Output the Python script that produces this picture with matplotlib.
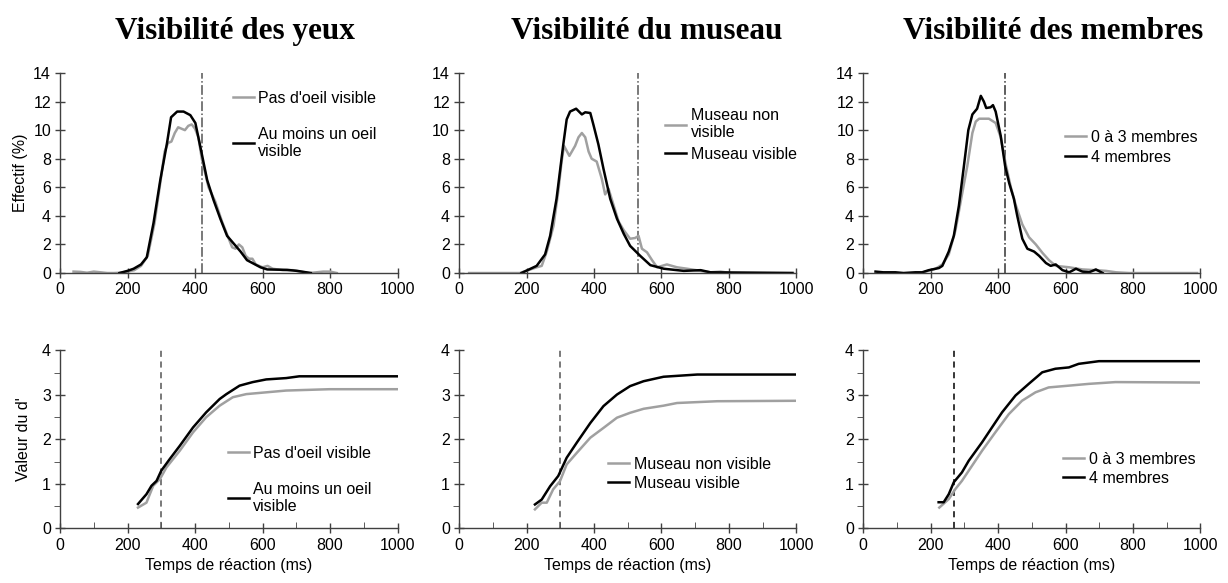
import numpy as np
import matplotlib.pyplot as plt
from matplotlib.ticker import MultipleLocator

# ---- top row : distribution des temps de reaction (%) ----
# yeux
t_yeux_gris = [40, 60, 80, 100, 120, 140, 160, 180, 200, 220, 240, 260, 280, 300, 310, 320, 330, 340, 350, 360, 370,
               380, 390, 400, 410, 420, 430, 440, 460, 480, 500, 510, 520, 530, 540, 550, 560, 570, 580, 600, 615,
               630, 660, 690, 710, 740, 780, 800, 820]
eff_yeux_gris = [0.1, 0.08, 0.02, 0.1, 0.05, 0.0, 0.0, 0.02, 0.1, 0.2, 0.5, 1.2, 3.5, 6.8, 8.5, 9.1, 9.2, 9.8, 10.2,
                 10.1, 10.0, 10.3, 10.4, 10.1, 9.5, 8.0, 7.0, 6.0, 5.0, 3.6, 2.4, 1.8, 1.7, 2.0, 1.8, 1.2, 1.0, 1.0,
                 0.6, 0.4, 0.5, 0.3, 0.2, 0.2, 0.1, 0.0, 0.1, 0.1, 0.0]
t_yeux_noir = [176, 200, 218, 240, 257, 277, 297, 317, 329, 347, 366, 386, 401, 416, 436, 455, 475, 495, 515, 535,
               554, 594, 614, 673, 703, 743]
eff_yeux_noir = [0.0, 0.15, 0.3, 0.6, 1.1, 3.5, 6.5, 9.1, 10.9, 11.3, 11.3, 11.05, 10.5, 8.8, 6.5, 5.1, 3.8, 2.6,
                 2.05, 1.5, 0.9, 0.4, 0.25, 0.22, 0.15, 0.0]

# museau
t_mus_gris = [30, 180, 230, 245, 260, 280, 294, 304, 311, 327, 344, 354, 364, 374, 384, 393, 408, 423, 433, 443, 458,
              473, 488, 507, 522, 532, 542, 557, 572, 587, 616, 646, 676, 716, 745, 775, 805, 990]
eff_mus_gris = [0.0, 0.0, 0.4, 0.5, 1.5, 3.3, 5.7, 7.8, 8.9, 8.2, 8.9, 9.5, 9.8, 9.5, 8.5, 8.0, 7.8, 6.6, 5.5, 5.9,
                4.75, 3.6, 3.0, 2.4, 2.45, 2.6, 1.7, 1.45, 0.9, 0.4, 0.6, 0.4, 0.3, 0.15, 0.05, 0.1, 0.0, 0.0]
t_mus_noir = [185, 230, 255, 270, 289, 309, 319, 329, 347, 364, 374, 389, 398, 413, 428, 448, 468, 488, 507, 537,
              567, 607, 666, 716, 745, 988]
eff_mus_noir = [0.0, 0.5, 1.3, 2.6, 5.2, 9.0, 10.75, 11.3, 11.5, 11.1, 11.25, 11.2, 10.4, 9.0, 7.3, 5.2, 3.8, 2.75,
                1.9, 1.2, 0.55, 0.3, 0.15, 0.2, 0.05, 0.0]

# membres
t_mem_gris = [185, 215, 235, 254, 274, 294, 309, 324, 334, 344, 373, 393, 408, 423, 438, 452, 472, 492, 512, 532,
              551, 571, 611, 650, 690, 720, 750, 789, 990]
eff_mem_gris = [0.1, 0.3, 0.6, 1.3, 3.0, 5.6, 7.5, 9.8, 10.6, 10.8, 10.8, 10.5, 9.5, 7.6, 6.0, 4.8, 3.4, 2.5, 2.0,
                1.4, 0.9, 0.5, 0.4, 0.25, 0.2, 0.15, 0.05, 0.0, 0.0]
t_mem_noir = [37, 60, 96, 120, 155, 175, 195, 225, 235, 254, 269, 284, 299, 312, 324, 338, 349, 358, 365, 378, 385,
              393, 408, 421, 433, 447, 457, 472, 487, 507, 522, 542, 556, 571, 591, 611, 631, 650, 670, 690, 710]
eff_mem_noir = [0.1, 0.05, 0.05, 0.0, 0.05, 0.05, 0.2, 0.35, 0.5, 1.5, 2.6, 4.7, 7.5, 10.0, 11.1, 11.5, 12.4, 12.0,
                11.55, 11.6, 11.75, 11.3, 9.6, 7.5, 6.3, 5.2, 4.0, 2.4, 1.7, 1.5, 1.2, 0.7, 0.5, 0.6, 0.2, 0.05,
                0.3, 0.1, 0.05, 0.25, 0.0]

# ---- bottom row : valeur du d' ----
td_yeux_gris = [231, 256, 276, 296, 315, 355, 394, 433, 473, 512, 552, 611, 670, 798, 1000]
d_yeux_gris = [0.47, 0.58, 0.96, 1.11, 1.37, 1.75, 2.16, 2.5, 2.76, 2.95, 3.02, 3.06, 3.1, 3.13, 3.13]
td_yeux_noir = [231, 256, 271, 286, 300, 325, 355, 394, 433, 473, 493, 532, 571, 611, 670, 709, 1000]
d_yeux_noir = [0.55, 0.77, 0.96, 1.07, 1.3, 1.56, 1.86, 2.27, 2.61, 2.91, 3.02, 3.21, 3.29, 3.35, 3.38, 3.42, 3.42]

td_mus_gris = [225, 245, 260, 279, 299, 319, 349, 389, 428, 468, 507, 547, 606, 646, 765, 1000]
d_mus_gris = [0.43, 0.58, 0.58, 0.88, 1.06, 1.44, 1.7, 2.04, 2.26, 2.49, 2.6, 2.69, 2.76, 2.82, 2.86, 2.87]
td_mus_noir = [225, 245, 270, 294, 319, 349, 389, 428, 468, 507, 547, 606, 666, 706, 1000]
d_mus_noir = [0.54, 0.65, 0.95, 1.18, 1.59, 1.93, 2.37, 2.75, 3.01, 3.2, 3.31, 3.41, 3.44, 3.46, 3.46]

td_mem_gris = [226, 254, 274, 293, 323, 353, 392, 432, 471, 511, 550, 610, 669, 748, 1000]
d_mem_gris = [0.47, 0.66, 0.89, 1.07, 1.41, 1.75, 2.16, 2.57, 2.87, 3.06, 3.17, 3.21, 3.25, 3.29, 3.28]
td_mem_noir = [224, 239, 254, 269, 293, 313, 353, 382, 412, 452, 491, 531, 570, 610, 639, 699, 1000]
d_mem_noir = [0.59, 0.59, 0.77, 1.04, 1.26, 1.52, 1.94, 2.27, 2.61, 2.99, 3.25, 3.51, 3.59, 3.62, 3.7, 3.76, 3.76]

titres = ["Visibilité des yeux", "Visibilité du museau", "Visibilité des membres"]
leg_yeux = ["Pas d'oeil visible", "Au moins un oeil\nvisible"]
leg_mus_haut = ["Museau non\nvisible", "Museau visible"]
leg_mus_bas = ["Museau non visible", "Museau visible"]
leg_mem = ["0 à 3 membres", "4 membres"]
seuil_haut = [420, 530, 420]
seuil_bas = [300, 300, 270]

gris = "#a0a0a0"
noir = "#000000"

plt.rcParams['font.family'] = ['Liberation Sans', 'DejaVu Sans']
plt.rcParams['font.size'] = 11

fig = plt.figure(figsize=(12.28, 5.83), dpi=100)

lefts = [0.0489, 0.3738, 0.7028]
width = 0.2748
top_axes = [fig.add_axes([l, 0.5317, width, 0.3431]) for l in lefts]
bot_axes = [fig.add_axes([l, 0.0935, width, 0.3053]) for l in lefts]

haut = [(t_yeux_gris, eff_yeux_gris, t_yeux_noir, eff_yeux_noir, leg_yeux),
        (t_mus_gris, eff_mus_gris, t_mus_noir, eff_mus_noir, leg_mus_haut),
        (t_mem_gris, eff_mem_gris, t_mem_noir, eff_mem_noir, leg_mem)]
bas = [(td_yeux_gris, d_yeux_gris, td_yeux_noir, d_yeux_noir, leg_yeux),
       (td_mus_gris, d_mus_gris, td_mus_noir, d_mus_noir, leg_mus_bas),
       (td_mem_gris, d_mem_gris, td_mem_noir, d_mem_noir, leg_mem)]

leg_pos_haut = [(0.512, 0.91, 1.3), (0.611, 0.825, 0.4), (0.599, 0.715, 0.3)]
leg_pos_bas = [(0.497, 0.463, 1.3), (0.442, 0.404, 0.25), (0.593, 0.43, 0.25)]
vcol_haut = ["#555555", "#555555", "#333333"]
vcol_bas = ["#555555", "#555555", "#000000"]


def style(ax, ymax, ymaj, yminor):
    for s in ['top', 'right']:
        ax.spines[s].set_visible(False)
    for s in ['left', 'bottom']:
        ax.spines[s].set_color('#404040')
        ax.spines[s].set_linewidth(1.0)
    ax.set_xlim(0, 1000)
    ax.set_ylim(0, ymax)
    ax.xaxis.set_major_locator(MultipleLocator(200))
    ax.yaxis.set_major_locator(MultipleLocator(ymaj))
    if yminor:
        ax.xaxis.set_minor_locator(MultipleLocator(100))
        ax.yaxis.set_minor_locator(MultipleLocator(yminor))
        ax.tick_params(axis='x', which='minor', direction='in', length=4, color='#404040')
        ax.tick_params(axis='y', which='minor', direction='out', length=4, color='#404040')
    ax.tick_params(which='major', direction='inout', length=7, width=1, color='#404040', labelsize=11.5, pad=3)


for i in range(3):
    ax = top_axes[i]
    xg, yg, xn, yn, labs = haut[i]
    ax.axvline(seuil_haut[i], color=vcol_haut[i], lw=1.1, ls='-.')
    ax.plot(xg, yg, color=gris, lw=1.8, label=labs[0])
    ax.plot(xn, yn, color=noir, lw=1.8, label=labs[1])
    style(ax, 14, 2, None)
    lx, ly, sp = leg_pos_haut[i]
    ax.legend(loc='upper left', bbox_to_anchor=(lx, ly), frameon=False, fontsize=11.5, handlelength=1.3,
              handletextpad=0.3, labelspacing=sp, borderpad=0, borderaxespad=0)

    ax = bot_axes[i]
    xg, yg, xn, yn, labs = bas[i]
    ax.axvline(seuil_bas[i], color=vcol_bas[i], lw=1.1, ls='--', dashes=(4, 3))
    ax.plot(xg, yg, color=gris, lw=1.8, label=labs[0])
    ax.plot(xn, yn, color=noir, lw=1.8, label=labs[1])
    style(ax, 4, 1, 0.5)
    ax.set_xlabel("Temps de réaction (ms)", fontsize=11.5, labelpad=4)
    lx, ly, sp = leg_pos_bas[i]
    ax.legend(loc='upper left', bbox_to_anchor=(lx, ly), frameon=False, fontsize=11.5, handlelength=1.3,
              handletextpad=0.3, labelspacing=sp, borderpad=0, borderaxespad=0)

top_axes[0].set_ylabel("Effectif (%)", fontsize=11.5, labelpad=4)
bot_axes[0].set_ylabel("Valeur du d'", fontsize=11.5, labelpad=8)

title_x = [0.1915, 0.527, 0.858]
for tx, t in zip(title_x, titres):
    fig.text(tx, 0.933, t, ha='center', va='baseline', fontsize=22.5, fontweight='bold',
             family=['Liberation Serif', 'DejaVu Serif'])

fig.savefig("out.png", dpi=100)
